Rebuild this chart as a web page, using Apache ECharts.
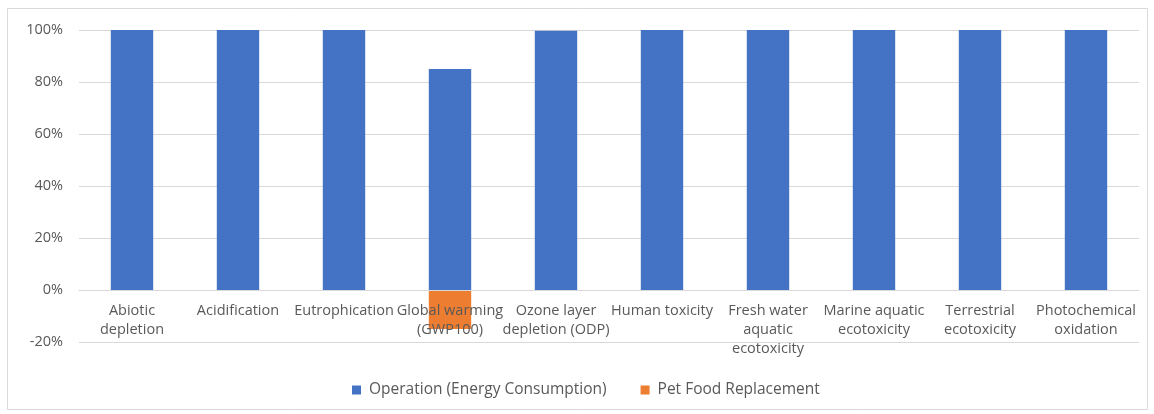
<!DOCTYPE html>
<html><head><meta charset="utf-8">
<script src="https://cdn.jsdelivr.net/npm/echarts@6/dist/echarts.min.js"></script>
<style>html,body{margin:0;padding:0;background:#fff}#c{width:1154px;height:414px}</style>
</head><body><div id="c"></div>
<script>
const categories = ["Abiotic\ndepletion","Acidification","Eutrophication","Global warming\n(GWP100)","Ozone layer\ndepletion (ODP)","Human toxicity","Fresh water\naquatic\necotoxicity","Marine aquatic\necotoxicity","Terrestrial\necotoxicity","Photochemical\noxidation"];
const operation = [100,100,100,85,99.7,100,100,100,100,100];
const petFood = [0,0,0,-15,-0.3,0,0,0,0,0];
const yTicks = {min:-20,max:100,interval:20};
const chart = echarts.init(document.getElementById('c'));
const font = 'Open Sans';
chart.setOption({
  animation:false,
  graphic:[{type:'rect',shape:{x:7.5,y:8.5,width:1140,height:401},style:{fill:'none',stroke:'#d9d9d9',lineWidth:1}}],
  grid:{left:79,right:15,top:30,bottom:72},
  legend:{top:377,left:347,itemWidth:9,itemHeight:9,itemGap:34,icon:'rect',
    textStyle:{color:'#595959',fontSize:15.5,fontFamily:font,padding:[0,0,0,3]},
    data:['Operation (Energy Consumption)','Pet Food Replacement']},
  xAxis:{type:'category',data:categories,offset:-52,z:5,
    axisLine:{onZero:false,lineStyle:{color:'#d9d9d9'}},axisTick:{show:false},
    axisLabel:{color:'#595959',fontSize:14.5,fontFamily:font,lineHeight:19,margin:11,interval:0}},
  yAxis:{type:'value',min:yTicks.min,max:yTicks.max,interval:yTicks.interval,
    axisLine:{show:false},axisTick:{show:false},
    splitLine:{lineStyle:{color:'#d9d9d9'}},
    axisLabel:{color:'#595959',fontSize:14.5,fontFamily:font,margin:16,formatter:v=>v+'%'}},
  series:[
    {name:'Operation (Energy Consumption)',type:'bar',stack:'a',data:operation,barWidth:'40%',itemStyle:{color:'#4472C4'}},
    {name:'Pet Food Replacement',type:'bar',stack:'a',data:petFood,barWidth:'40%',itemStyle:{color:'#ED7D31'}}
  ]
});
</script></body></html>
